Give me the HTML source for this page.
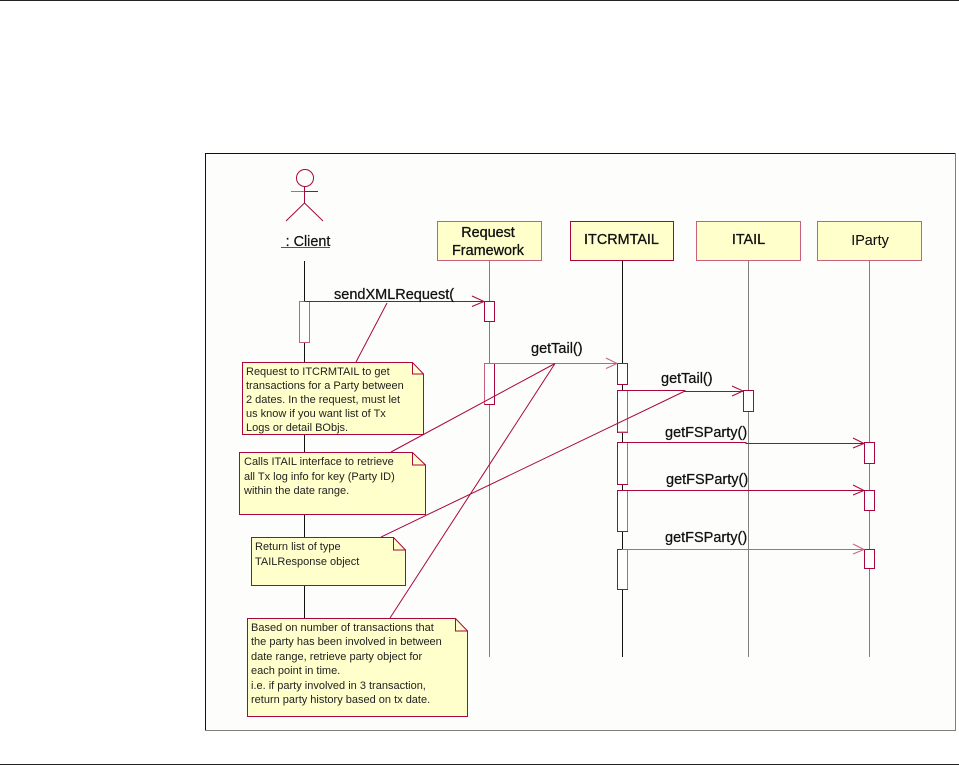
<!DOCTYPE html>
<html><head><meta charset="utf-8"><style>
html,body{margin:0;padding:0;background:#fff;width:959px;height:765px;overflow:hidden}
svg{display:block}
text{font-family:"Liberation Sans",sans-serif;fill:#111}
.n{font-size:11px;fill:#222}
.h{font-size:14.4px;stroke:#111;stroke-width:.3}
.m{font-size:14.5px;stroke:#111;stroke-width:.25}
.box{fill:#ffffcc;stroke:#c7607f;stroke-width:1}
.act{fill:#fff;stroke:#a8063f;stroke-width:1}
.note{fill:#ffffcc;stroke:#a8063f;stroke-width:1}
.l{stroke:#a8063f;stroke-width:1;fill:none}
.p{stroke:#c7607f;stroke-width:1;fill:none}
.gl{stroke:#808080;stroke-width:1}
.bl{stroke:#111;stroke-width:1}
</style></head><body>
<svg width="959" height="765" viewBox="0 0 959 765" xmlns="http://www.w3.org/2000/svg">
<rect x="0" y="0" width="959" height="1" fill="#222"/>
<rect x="0" y="764" width="959" height="1" fill="#222"/>
<rect x="205.5" y="153.5" width="750" height="577" fill="#fdfefc" stroke="none"/>
<path d="M205.5 730.5V153.5H955.5" fill="none" stroke="#111"/>
<path d="M205.5 730.5H955.5V153.5" fill="none" stroke="#808080"/>

<!-- lifelines -->
<line class="bl" x1="304.5" y1="261" x2="304.5" y2="619"/>
<line class="gl" x1="489.5" y1="261" x2="489.5" y2="657"/>
<line class="bl" x1="622.5" y1="261" x2="622.5" y2="657"/>
<line class="gl" x1="748.5" y1="261" x2="748.5" y2="657"/>
<line class="gl" x1="869.5" y1="261" x2="869.5" y2="657"/>

<!-- actor -->
<circle cx="305" cy="178" r="8.5" fill="none" stroke="#a8063f"/>
<path class="l" d="M304.5 187V203M304.500 191.500H318M304.500 203L286 221M304.500 203L323 221"/>
<path class="p" d="M291 191.500H304"/>
<text x="308" y="246" text-anchor="middle" style="font-size:14.4px;stroke:#111;stroke-width:.2">: Client</text>
<line x1="281" y1="247.500" x2="330" y2="247.500" stroke="#555"/>

<!-- header boxes -->
<rect class="box" x="437.500" y="221.500" width="104" height="39"/>
<rect class="box" x="570.500" y="221.500" width="103" height="39" style="stroke:#a8063f"/>
<rect class="box" x="696.500" y="221.500" width="104" height="39"/>
<rect class="box" x="817.500" y="221.500" width="104" height="39"/>
<text class="h" x="488" y="237" text-anchor="middle">Request</text>
<text class="h" x="488" y="255" text-anchor="middle">Framework</text>
<text class="h" x="621.500" y="244" text-anchor="middle">ITCRMTAIL</text>
<text class="h" x="748.500" y="244" text-anchor="middle">ITAIL</text>
<text class="h" x="870" y="245" text-anchor="middle" style="stroke-width:.1">IParty</text>

<!-- activations -->
<rect class="act" x="299.500" y="301.500" width="10" height="41" style="stroke:#c7607f"/>
<rect class="act" x="484.500" y="301.500" width="10" height="20"/>
<rect class="act" x="484.500" y="363.500" width="10" height="41" style="stroke:#c7607f"/>
<path class="l" d="M494.500 363.500V404.500H484.500"/>
<rect class="act" x="617.500" y="363.500" width="10" height="21"/>
<rect class="act" x="617.500" y="390.500" width="10" height="42"/>
<path class="p" d="M627.500 391V432H618"/>
<rect class="act" x="617.500" y="442.500" width="10" height="42"/>
<path class="p" d="M627.500 443V484"/>
<rect class="act" x="617.500" y="490.500" width="10" height="41"/>
<path class="p" d="M627.500 491V531"/>
<rect class="act" x="617.500" y="549.500" width="10" height="40"/>
<path class="p" d="M627.500 550V589"/>
<rect class="act" x="743.500" y="390.500" width="10" height="21"/>
<rect class="act" x="864.500" y="442.500" width="10" height="21"/>
<rect class="act" x="864.500" y="490.500" width="10" height="20"/>
<rect class="act" x="864.500" y="549.500" width="10" height="19"/>

<!-- messages -->
<path class="l" d="M304.500 301.500H484M472 296L484 301.500L472 306.500"/>
<path class="p" d="M494 363.500H617M606 358L617 363.500L606 368.500"/>
<path class="l" d="M622 390.500H685V391.500H743M732 386L743 391L732 396"/>
<path class="l" d="M622 442.500H746V443.500H864M853 438L864 443.500L853 448"/>
<path class="l" d="M622 490.500H864M853 485L864 490.500L853 495"/>
<path class="p" d="M622 549.500H864M853 544L864 549.500L853 554"/>
<text class="m" x="334" y="299">sendXMLRequest(</text>
<text class="m" x="531" y="353">getTail()</text>
<text class="m" x="661" y="383">getTail()</text>
<text class="m" x="665" y="437">getFSParty()</text>
<text class="m" x="666" y="484">getFSParty()</text>
<text class="m" x="665" y="542">getFSParty()</text>

<!-- note connectors -->
<path class="l" d="M387 303L356 362"/>
<path class="l" d="M555 363.500L391 452"/>
<path class="l" d="M555 363.500L390 618"/>
<path class="l" d="M685 391L381 537"/>

<!-- notes -->
<path class="note" d="M242.500 362.500H412.500L423.500 374V434.500H242.500Z"/>
<path class="l" d="M412.500 362.500V374H423.500"/>
<text class="n"><tspan x="246" y="375">Request to ITCRMTAIL to get</tspan><tspan x="246" y="389">transactions for a Party between</tspan><tspan x="246" y="403">2 dates. In the request, must let</tspan><tspan x="246" y="417">us know if you want list of Tx</tspan><tspan x="246" y="431">Logs or detail BObjs.</tspan></text>

<path class="note" d="M239.500 452.500H412.500L425.500 465V514.500H239.500Z"/>
<path class="l" d="M412.500 452.500V465H425.500"/>
<text class="n"><tspan x="244" y="465">Calls ITAIL interface to retrieve</tspan><tspan x="244" y="480">all Tx log info for key (Party ID)</tspan><tspan x="244" y="494">within the date range.</tspan></text>

<path class="note" d="M251.500 537.500H393.500L405.500 550V585.500H251.500Z"/>
<path class="l" d="M393.500 537.500V550H405.500"/>
<text class="n"><tspan x="255" y="550">Return list of type</tspan><tspan x="255" y="565">TAILResponse object</tspan></text>

<path class="note" d="M247.500 618.500H455.500L467.500 631V716.500H247.500Z"/>
<path class="l" d="M455.500 618.500V631H467.500"/>
<text class="n"><tspan x="251" y="631">Based on number of transactions that</tspan><tspan x="251" y="645">the party has been involved in between</tspan><tspan x="251" y="660">date range, retrieve party object for</tspan><tspan x="251" y="674">each point in time.</tspan><tspan x="251" y="689">i.e. if party involved in 3 transaction,</tspan><tspan x="251" y="703">return party history based on tx date.</tspan></text>
</svg>
</body></html>
